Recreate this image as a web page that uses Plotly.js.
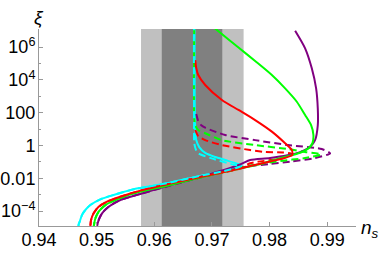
<!DOCTYPE html>
<html><head><meta charset="utf-8">
<script src="https://cdn.plot.ly/plotly-3.0.1.min.js"></script>
<style>html,body{margin:0;padding:0;background:#fff}#chart{width:382px;height:255px}</style>
</head><body><div id="chart"></div>
<script>
// Tick labels
const xTickVals = [0.94, 0.95, 0.96, 0.97, 0.98, 0.99];
const xTickText = ['0.94', '0.95', '0.96', '0.97', '0.98', '0.99'];
const yTickVals = [1e-4, 1e-2, 1, 100, 1e4, 1e6];
const yTickText = ['10<sup>\u22124</sup>', '0.01', '1', '100', '10<sup>4</sup>', '10<sup>6</sup>'];
const yMinorVals = [1e-3, 1e-1, 10, 1e3, 1e5];

// Shaded bands (n_s intervals)
const outerBand = [0.9577, 0.9755];
const innerBand = [0.9613, 0.9718];

// Cyan
const cyanSolidNs = [0.94682,0.94690,0.94705,0.94747,0.94804,0.94891,0.95064,0.95295,0.95641,0.95931,0.96220,0.96797,0.97200,0.97490,0.97510,0.97454,0.97230,0.97057,0.96884,0.96780,0.96728,0.96711,0.96702,0.96698];
const cyanSolidXi = [1.0e-5,1.6e-5,2.2e-5,5.8e-5,1.15e-4,2.3e-4,5.1e-4,9.5e-4,2.1e-3,3.2e-3,4.9e-3,1.38e-2,2.7e-2,5.0e-2,5.8e-2,7.4e-2,0.129,0.195,0.347,0.79,2.1,8.7,590,1.6e7];
const cyanDashNs = [0.94682,0.94690,0.94705,0.94747,0.94804,0.94891,0.95064,0.95295,0.95641,0.95931,0.96220,0.96797,0.97200,0.97490,0.97510,0.97404,0.96994,0.96764,0.96722,0.96694,0.96690,0.96688];
const cyanDashXi = [1.0e-5,1.6e-5,2.2e-5,5.8e-5,1.15e-4,2.3e-4,5.1e-4,9.5e-4,2.1e-3,3.2e-3,4.9e-3,1.38e-2,2.7e-2,5.0e-2,5.8e-2,0.063,0.162,0.33,0.56,1.35,31.6,1.6e7];

// Red
const redSolidNs = [0.94890,0.94903,0.94948,0.95035,0.95180,0.95411,0.95757,0.96220,0.96797,0.97490,0.97664,0.98010,0.98260,0.98392,0.98387,0.98270,0.98040,0.97750,0.97461,0.97173,0.96884,0.96763,0.96728,0.96711];
const redSolidXi = [1.0e-5,2.8e-5,7.2e-5,1.8e-4,3.7e-4,7.4e-4,1.74e-3,4.2e-3,1.17e-2,3.9e-2,5.5e-2,0.105,0.17,0.257,0.52,1.35,6.9,35,145,590,4800,1.95e4,5.2e4,1.6e5];
const redDashNs = [0.96711,0.96763,0.96884,0.97173,0.97664,0.97924,0.98236,0.98392,0.98236,0.97664,0.97490,0.96797,0.96220,0.95757,0.95411,0.95180,0.95035,0.94948,0.94903,0.94890];
const redDashXi = [8.7,3.7,2.1,1.05,0.52,0.40,0.37,0.30,0.17,0.081,0.039,1.17e-2,4.2e-3,1.74e-3,7.4e-4,3.7e-4,1.8e-4,7.2e-5,2.8e-5,1.0e-5];

// Green
const greenSolidNs = [0.94948,0.94977,0.95035,0.95151,0.95354,0.95641,0.96220,0.96797,0.97490,0.97837,0.98184,0.98530,0.98674,0.98744,0.98761,0.98721,0.98617,0.98473,0.98270,0.98040,0.97750,0.97461,0.97087,0.97030];
const greenSolidXi = [1.0e-5,3.5e-5,9.1e-5,2.3e-4,5.1e-4,1.2e-3,3.5e-3,1.1e-2,3.9e-2,7.4e-2,0.166,0.355,0.66,1.35,4.3,17,71,460,3000,1.95e4,1.4e5,9.3e5,1.1e7,1.6e7];
const greenDashNs = [0.96693,0.96693,0.96711,0.96762,0.96884,0.97173,0.97750,0.98322,0.98617,0.98894,0.98617,0.98184,0.97664,0.97490,0.96797,0.96220,0.95641,0.95354,0.95151,0.95035,0.94977,0.94948];
const greenDashXi = [1.6e7,71,17,8.7,5.5,2.1,1.05,0.60,0.40,0.28,0.17,0.112,0.059,0.042,1.1e-2,3.5e-3,1.2e-3,5.1e-4,2.3e-4,9.1e-5,3.5e-5,1.0e-5];

// Purple
const purpleSolidNs = [0.95000,0.95035,0.95094,0.95208,0.95411,0.95757,0.96220,0.96797,0.97490,0.97664,0.98010,0.98473,0.98704,0.98790,0.98837,0.98837,0.98808,0.98733,0.98617,0.98444];
const purpleSolidXi = [1.0e-5,2.8e-5,7.2e-5,1.8e-4,4.7e-4,1.1e-3,3.3e-3,1.17e-2,6.9e-2,0.129,0.17,0.33,0.83,2.1,17,180,3000,5.0e4,8.3e5,9.8e6];
const purpleDashNs = [0.96728,0.96763,0.96815,0.96884,0.97230,0.97750,0.98322,0.98906,0.99050,0.98790,0.98357,0.98010,0.97664,0.97490,0.96797,0.96220,0.95757,0.95411,0.95208,0.95094,0.95035,0.95000];
const purpleDashXi = [81,31,17,12,4.3,2.1,1.05,0.60,0.33,0.17,0.102,0.074,0.055,0.042,1.1e-2,3.1e-3,1.1e-3,4.7e-4,1.8e-4,7.2e-5,2.8e-5,1.0e-5];

const CYAN = '#00FFFF', RED = '#FF0000', GREEN = '#00FF00', PURPLE = '#800080';
const DASH = '7px,4px';
function tr(x, y, color, dash) {
  return {x: x, y: y, type: 'scatter', mode: 'lines', hoverinfo: 'skip',
    line: {color: color, width: 2, dash: dash || 'solid', shape: 'spline', smoothing: 0.7}};
}
const data = [
  tr(cyanSolidNs, cyanSolidXi, CYAN),
  tr(purpleDashNs, purpleDashXi, PURPLE, DASH),
  tr(greenDashNs, greenDashXi, GREEN, DASH),
  tr(redDashNs, redDashXi, RED, DASH),
  tr(purpleSolidNs, purpleSolidXi, PURPLE),
  tr(greenSolidNs, greenSolidXi, GREEN),
  tr(redSolidNs, redSolidXi, RED),
  tr(cyanDashNs, cyanDashXi, CYAN, DASH)
];

const FONT = 'Liberation Sans, Arial, sans-serif';
const TF = 18;
const layout = {
  width: 382, height: 255,
  margin: {l: 39, r: 26, t: 29, b: 29, pad: 0},
  paper_bgcolor: '#fff', plot_bgcolor: '#fff',
  showlegend: false,
  font: {family: FONT, size: TF, color: '#000'},
  xaxis: {
    range: [0.94, 0.995], tickmode: 'array', tickvals: xTickVals, ticktext: xTickText,
    ticks: 'inside', ticklen: 4, tickcolor: '#999', tickwidth: 1, ticklabelstandoff: -3,
    showline: true, linecolor: '#999', linewidth: 1, showgrid: false, zeroline: false,
    tickfont: {family: FONT, size: TF, color: '#000'}
  },
  yaxis: {
    type: 'log', range: [-4.915, 7.098], tickmode: 'array', tickvals: yTickVals, ticktext: yTickText,
    ticks: 'inside', ticklen: 4, tickcolor: '#999', tickwidth: 1, ticklabelstandoff: -1,
    minor: {tickmode: 'array', tickvals: yMinorVals, ticks: 'inside', ticklen: 2, tickcolor: '#999', showgrid: false},
    showline: true, linecolor: '#999', linewidth: 1, showgrid: false, zeroline: false,
    tickfont: {family: FONT, size: TF, color: '#000'}
  },
  shapes: [
    {type: 'rect', xref: 'x', yref: 'paper', x0: outerBand[0], x1: outerBand[1], y0: 0, y1: 1,
     fillcolor: '#c0c0c0', line: {width: 0}, layer: 'below'},
    {type: 'rect', xref: 'x', yref: 'paper', x0: innerBand[0], x1: innerBand[1], y0: 0, y1: 1,
     fillcolor: '#808080', line: {width: 0}, layer: 'below'}
  ],
  annotations: [
    {text: '<i>\u03BE</i>', xref: 'paper', yref: 'paper', x: 0.0, y: 1.06, xanchor: 'center', yanchor: 'middle',
     showarrow: false, font: {family: FONT, size: 19, color: '#000'}},
    {text: '<i>n<sub>s</sub></i>', xref: 'paper', yref: 'paper', x: 1.045, y: -0.015, xanchor: 'center', yanchor: 'middle',
     showarrow: false, font: {family: FONT, size: 19, color: '#000'}}
  ]
};
Plotly.newPlot('chart', data, layout, {displayModeBar: false, staticPlot: true});
</script>
</body></html>
